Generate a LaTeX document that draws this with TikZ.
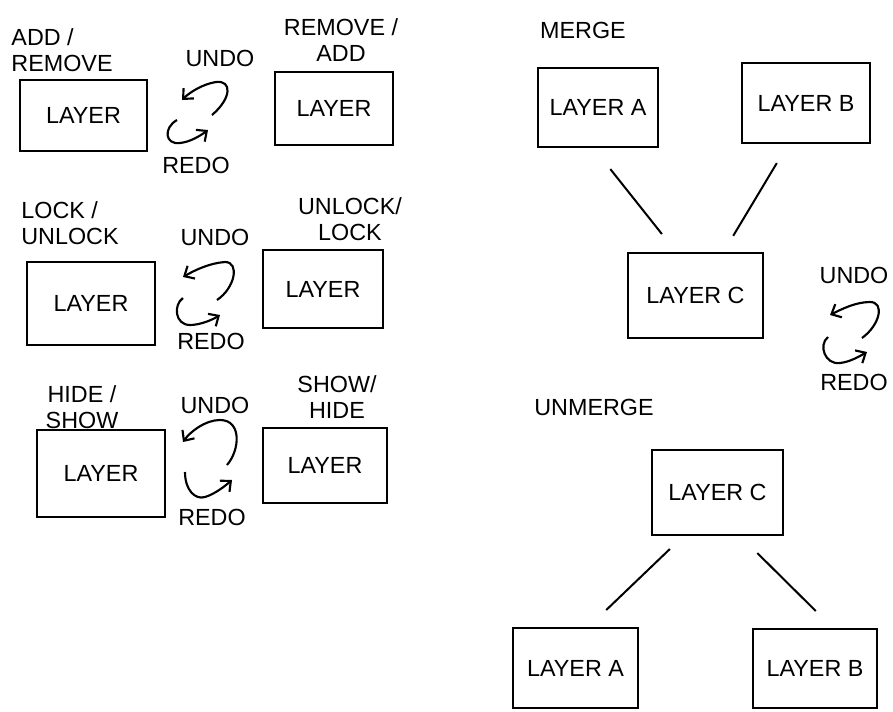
\documentclass[tikz,border=0pt]{standalone}
\usepackage{fontspec}
\newfontfamily\hand{Liberation Sans}
\usetikzlibrary{arrows.meta}
\tikzset{
  txt/.style={inner sep=0pt, font={\hand\fontsize{17.5}{19}\selectfont}},
  layerbox/.style={txt, draw, line width=1.8pt},
  lbl/.style={txt, align=center},
  link/.style={line width=1.5pt},
  curl/.style={line width=1.6pt, -{Straight Barb[length=6pt,width=11pt,line width=1.6pt]}}
}
\begin{document}
\begin{tikzpicture}[x=0.75pt,y=-0.75pt]
\useasboundingbox (0,0) rectangle (893,711);

% ---------- left column ----------
\node[layerbox, minimum width=95.25pt, minimum height=53.25pt] (l1a) at (83.5,115.5) {LAYER};
\node[layerbox, minimum width=88.5pt, minimum height=54.75pt] (l1b) at (334,108.5) {LAYER};
\node[lbl, align=left] (t1a) at (62,50) {ADD /\\REMOVE};
\node[lbl] (t1b) at (341,40) {REMOVE /\\ADD};
\node[lbl] (u1) at (220,58) {UNDO};
\node[lbl] (r1) at (196,165) {REDO};
\draw[curl] (212,115) .. controls (232,98) and (232,80) .. (216,82) .. controls (203,84) and (190,92) .. (182,100);
\draw[curl] (177,120) .. controls (163,128) and (165,145) .. (180,143) .. controls (190,142) and (200,136) .. (208,130);

\node[layerbox, minimum width=96pt, minimum height=62.25pt] (l2a) at (91,303.5) {LAYER};
\node[layerbox, minimum width=90pt, minimum height=58.5pt] (l2b) at (323,289) {LAYER};
\node[lbl, align=left] (t2a) at (70,223) {LOCK /\\UNLOCK};
\node[lbl] (t2b) at (350,219) {UNLOCK/\\LOCK};
\node[lbl] (u2) at (215,237) {UNDO};
\node[lbl] (r2) at (211,341) {REDO};
\draw[curl] (217,300) .. controls (235,288) and (240,262) .. (225,262) .. controls (210,263) and (195,270) .. (183,277);
\draw[curl] (183,298) .. controls (173,305) and (175,325) .. (190,325) .. controls (200,325) and (212,320) .. (220,315);

\node[layerbox, minimum width=96pt, minimum height=65.25pt] (l3a) at (101,473.5) {LAYER};
\node[layerbox, minimum width=93pt, minimum height=56.25pt] (l3b) at (325,465.5) {LAYER};
\node[lbl] (t3a) at (82,407) {HIDE /\\SHOW};
\node[lbl] (t3b) at (337,397) {SHOW/\\HIDE};
\node[lbl] (u3) at (215,405) {UNDO};
\node[lbl] (r3) at (212,517) {REDO};
\draw[curl] (227,465) .. controls (240,450) and (242,420) .. (220,420) .. controls (205,420) and (190,432) .. (183,442);
\draw[curl] (185,472) .. controls (185,490) and (195,500) .. (205,497) .. controls (215,494) and (225,486) .. (232,480);

% ---------- merge ----------
\node[lbl] (merge) at (583,30) {MERGE};
\node[layerbox, minimum width=90pt, minimum height=59.25pt] (ma) at (598,107.5) {LAYER A};
\node[layerbox, minimum width=96pt, minimum height=60pt] (mb) at (806,103) {LAYER B};
\node[layerbox, minimum width=101.25pt, minimum height=63.75pt] (mc) at (695.5,295.5) {LAYER C};
\draw[link, shorten <=20pt, shorten >=17pt] ([xshift=-3.2pt]ma.south) -- ([xshift=-14.6pt]mc.north);
\draw[link, shorten <=16.5pt, shorten >=14pt] ([xshift=-13.4pt]mb.south) -- ([xshift=21.1pt]mc.north);
\node[lbl] (u4) at (854,275) {UNDO};
\node[lbl] (r4) at (854,382) {REDO};
\draw[curl] (862,338) .. controls (880,325) and (885,302) .. (870,302) .. controls (855,302) and (840,310) .. (830,315);
\draw[curl] (828,337) .. controls (818,345) and (825,365) .. (840,363) .. controls (850,362) and (860,356) .. (867,352);

% ---------- unmerge ----------
\node[lbl] (unmerge) at (594,407) {UNMERGE};
\node[layerbox, minimum width=98.25pt, minimum height=63.75pt] (uc) at (717.5,492.5) {LAYER C};
\node[layerbox, minimum width=93.75pt, minimum height=60pt] (ua) at (575.5,668) {LAYER A};
\node[layerbox, minimum width=93pt, minimum height=59.25pt] (ub) at (815,668.5) {LAYER B};
\draw[link, shorten <=13.9pt, shorten >=18.2pt] ([xshift=-25.7pt]uc.south) -- ([xshift=9.9pt]ua.north);
\draw[link, shorten <=17.9pt, shorten >=17.9pt] ([xshift=17.1pt]uc.south) -- ([xshift=13.3pt]ub.north);
\end{tikzpicture}
\end{document}
